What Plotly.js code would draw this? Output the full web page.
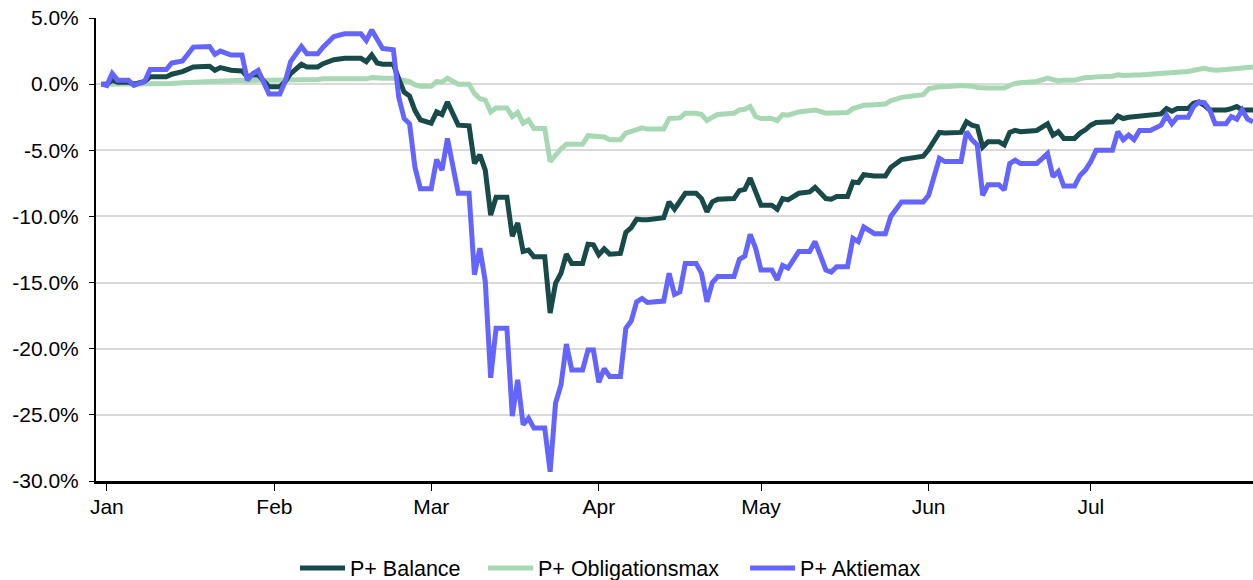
<!DOCTYPE html>
<html>
<head>
<meta charset="utf-8">
<script src="https://cdn.plot.ly/plotly-3.0.1.min.js"></script>
<style>
html,body{margin:0;padding:0;background:#fff;}
#chart{width:1253px;height:580px;}
</style>
</head>
<body>
<div id="chart"></div>
<script>
var dates = [
'2019-12-31','2020-01-01','2020-01-02','2020-01-03','2020-01-05','2020-01-06','2020-01-08','2020-01-09','2020-01-12','2020-01-13',
'2020-01-15','2020-01-17','2020-01-20','2020-01-21','2020-01-22','2020-01-24','2020-01-26','2020-01-27','2020-01-28','2020-01-29',
'2020-01-31','2020-02-02','2020-02-03','2020-02-04','2020-02-06','2020-02-07','2020-02-09','2020-02-10','2020-02-12','2020-02-14',
'2020-02-17','2020-02-18','2020-02-19','2020-02-20','2020-02-21','2020-02-23','2020-02-24','2020-02-25','2020-02-26','2020-02-27',
'2020-02-28','2020-03-01','2020-03-02','2020-03-03','2020-03-04','2020-03-06','2020-03-08','2020-03-09','2020-03-10','2020-03-11',
'2020-03-12','2020-03-13','2020-03-15','2020-03-16','2020-03-17','2020-03-18','2020-03-19','2020-03-20','2020-03-22','2020-03-23',
'2020-03-24','2020-03-25','2020-03-26','2020-03-27','2020-03-29','2020-03-30','2020-03-31','2020-04-01','2020-04-02','2020-04-03',
'2020-04-05','2020-04-06','2020-04-07','2020-04-08','2020-04-09','2020-04-10','2020-04-13','2020-04-14','2020-04-15','2020-04-16',
'2020-04-17','2020-04-19','2020-04-20','2020-04-21','2020-04-22','2020-04-23','2020-04-26','2020-04-27','2020-04-28','2020-04-29',
'2020-04-30','2020-05-01','2020-05-03','2020-05-04','2020-05-05','2020-05-06','2020-05-08','2020-05-10','2020-05-11','2020-05-13',
'2020-05-14','2020-05-15','2020-05-17','2020-05-18','2020-05-19','2020-05-20','2020-05-22','2020-05-24','2020-05-25','2020-05-27',
'2020-05-31','2020-06-01','2020-06-03','2020-06-04','2020-06-07','2020-06-08','2020-06-09','2020-06-10','2020-06-11','2020-06-12',
'2020-06-14','2020-06-15','2020-06-16','2020-06-17','2020-06-18','2020-06-21','2020-06-23','2020-06-24','2020-06-25','2020-06-26',
'2020-06-28','2020-06-29','2020-06-30','2020-07-01','2020-07-02','2020-07-05','2020-07-06','2020-07-07','2020-07-08','2020-07-09',
'2020-07-10','2020-07-12','2020-07-14','2020-07-15','2020-07-16','2020-07-17','2020-07-19','2020-07-20','2020-07-21','2020-07-22',
'2020-07-23','2020-07-24','2020-07-26','2020-07-27','2020-07-28','2020-07-29','2020-07-30','2020-07-31'
];

var balance = [
0,0,0.3,0.15,0.15,0.0,0.2,0.55,0.55,0.75,
0.95,1.3,1.35,1.05,1.25,1.05,1.0,0.55,0.7,0.7,
-0.2,-0.2,0.2,0.8,1.5,1.3,1.3,1.55,1.85,1.95,
1.95,1.7,2.2,1.6,1.5,1.5,0.4,-0.6,-0.9,-2.0,
-2.7,-2.95,-2.1,-2.3,-1.35,-3.1,-3.15,-6.0,-5.35,-6.5,
-9.9,-8.55,-8.55,-11.5,-10.5,-12.65,-12.55,-13.05,-13.05,-17.3,
-15.05,-14.3,-12.85,-13.55,-13.55,-12.1,-12.15,-12.9,-12.45,-12.85,
-12.8,-11.2,-10.85,-10.2,-10.25,-10.25,-10.1,-8.9,-9.45,-8.9,
-8.25,-8.25,-8.65,-9.65,-8.9,-8.7,-8.65,-8.05,-7.95,-7.1,
-8.15,-9.15,-9.15,-9.45,-8.65,-8.75,-8.25,-8.15,-7.8,-8.65,
-8.7,-8.5,-8.5,-7.4,-7.45,-6.85,-6.95,-6.95,-6.3,-5.7,
-5.45,-4.95,-3.65,-3.7,-3.65,-2.85,-3.1,-3.2,-4.75,-4.35,
-4.35,-4.6,-3.65,-3.5,-3.6,-3.5,-3.0,-3.85,-3.6,-4.1,
-4.1,-3.7,-3.45,-3.1,-2.9,-2.85,-2.4,-2.6,-2.5,-2.45,
-2.4,-2.3,-2.25,-1.85,-2.05,-1.85,-1.85,-1.45,-1.35,-1.6,
-1.95,-1.95,-1.95,-1.85,-1.7,-1.95,-1.95,-1.95
];

var obligationsmax = [
0,0,0,0,0,0,0,0.05,0.05,0.05,
0.1,0.15,0.2,0.2,0.25,0.3,0.3,0.25,0.3,0.3,
0.3,0.3,0.3,0.35,0.35,0.35,0.35,0.4,0.4,0.45,
0.45,0.4,0.5,0.45,0.45,0.45,0.35,0.25,0.2,-0.05,
-0.15,-0.15,0.2,0.15,0.45,0.0,0.0,-0.7,-1.1,-1.2,
-2.1,-1.8,-1.8,-2.45,-2.15,-2.95,-2.7,-3.35,-3.35,-5.85,
-5.3,-4.9,-4.55,-4.55,-4.55,-3.9,-3.95,-4.0,-4.0,-4.2,
-4.2,-3.7,-3.55,-3.35,-3.3,-3.4,-3.4,-2.6,-2.6,-2.55,
-2.2,-2.2,-2.3,-2.75,-2.5,-2.3,-2.2,-1.95,-1.9,-1.7,
-2.45,-2.6,-2.6,-2.75,-2.3,-2.35,-2.1,-2.0,-1.95,-2.2,
-2.2,-2.2,-2.15,-1.85,-1.75,-1.6,-1.55,-1.5,-1.25,-1.0,
-0.8,-0.35,-0.2,-0.2,-0.1,-0.1,-0.15,-0.25,-0.3,-0.3,
-0.3,-0.3,-0.1,0.05,0.1,0.2,0.45,0.3,0.25,0.3,
0.3,0.4,0.5,0.5,0.55,0.6,0.7,0.65,0.7,0.7,
0.7,0.75,0.8,0.9,0.9,0.9,0.95,1.05,1.15,1.2,
1.1,1.05,1.1,1.15,1.2,1.2,1.25,1.3
];

var aktiemax = [
0,-0.1,0.8,0.3,0.3,-0.1,0.2,1.1,1.1,1.6,
1.75,2.8,2.85,2.25,2.5,2.2,2.2,0.3,0.8,1.05,
-0.75,-0.75,0.2,1.7,2.85,2.3,2.3,2.8,3.6,3.8,
3.8,3.3,4.1,3.45,2.7,2.6,-1.0,-2.6,-3.0,-6.3,
-7.9,-7.9,-5.7,-6.5,-4.1,-8.25,-8.25,-14.4,-12.4,-14.9,
-22.2,-18.45,-18.45,-25.1,-22.35,-25.75,-25.25,-26,-26,-29.3,
-24.1,-22.75,-19.65,-21.6,-21.6,-20.1,-20.1,-22.55,-21.5,-22.1,
-22.1,-18.45,-17.9,-16.45,-16.2,-16.5,-16.4,-14.3,-15.9,-15.7,
-13.55,-13.55,-14.3,-16.45,-15.0,-14.55,-14.55,-13.25,-13.0,-11.35,
-12.4,-14.05,-14.05,-14.8,-13.7,-13.9,-12.65,-12.65,-11.9,-14.05,
-14.2,-13.8,-13.8,-11.65,-11.9,-10.8,-11.3,-11.3,-10.0,-8.9,
-8.9,-8.4,-5.6,-5.85,-5.85,-3.6,-4.2,-4.6,-8.4,-7.6,
-7.6,-8.0,-6.0,-5.75,-6.0,-6.0,-5.25,-7.0,-6.6,-7.7,
-7.7,-6.9,-6.5,-5.85,-5.0,-5.0,-3.6,-4.2,-3.85,-4.2,
-3.5,-3.5,-3.1,-2.35,-3.0,-2.5,-2.5,-1.7,-1.35,-1.4,
-1.95,-3.0,-3.0,-2.45,-2.65,-1.95,-2.65,-2.85
];

var seriesNames = ['P+ Balance', 'P+ Obligationsmax', 'P+ Aktiemax'];
var monthTicks = ['2020-01-01','2020-02-01','2020-03-01','2020-04-01','2020-05-01','2020-06-01','2020-07-01'];
var monthLabels = ['Jan','Feb','Mar','Apr','May','Jun','Jul'];
var yTickVals = [5, 0, -5, -10, -15, -20, -25, -30];
var yTickLabels = ['5.0%','0.0%','-5.0%','-10.0%','-15.0%','-20.0%','-25.0%','-30.0%'];

var traces = [
  {x: dates, y: obligationsmax, name: seriesNames[1], type: 'scatter', mode: 'lines',
   line: {color: '#a8d8b3', width: 5}, legend: 'legend2'},
  {x: dates, y: balance, name: seriesNames[0], type: 'scatter', mode: 'lines',
   line: {color: '#174a48', width: 5}, legend: 'legend'},
  {x: dates, y: aktiemax, name: seriesNames[2], type: 'scatter', mode: 'lines',
   line: {color: '#6464ff', width: 5}, legend: 'legend3'}
];

function legendAt(xPaper) {
  return {orientation: 'h', x: xPaper, xanchor: 'left', y: -0.188, yanchor: 'middle',
          itemwidth: 45, bgcolor: 'rgba(0,0,0,0)', borderwidth: 0,
          font: {size: 21.5, color: '#000'}};
}

var layout = {
  width: 1253, height: 580,
  margin: {l: 96, r: 0, t: 18, b: 99, autoexpand: false},
  paper_bgcolor: '#ffffff', plot_bgcolor: '#ffffff',
  font: {family: '"Liberation Sans", Arial, sans-serif', size: 21, color: '#000'},
  showlegend: true,
  legend: legendAt(0.172),
  legend2: legendAt(0.3345),
  legend3: legendAt(0.561),
  xaxis: {
    type: 'date', range: ['2019-12-30', '2020-07-31'],
    tickvals: monthTicks, ticktext: monthLabels,
    showgrid: false, zeroline: false,
    showline: true, linecolor: '#000', linewidth: 3,
    ticks: 'outside', ticklen: 7, tickcolor: '#000', tickwidth: 1,
    ticklabelstandoff: -2,
    tickfont: {size: 21, color: '#000'}
  },
  yaxis: {
    range: [-30, 5], tickvals: yTickVals, ticktext: yTickLabels,
    showgrid: true, gridcolor: '#d9d9d9', gridwidth: 2, zeroline: false,
    showline: true, linecolor: '#000', linewidth: 2,
    ticks: 'outside', ticklen: 5, tickcolor: '#000', tickwidth: 1,
    ticklabelstandoff: 6,
    tickfont: {size: 21, color: '#000'}
  }
};

Plotly.newPlot('chart', traces, layout, {staticPlot: true, displayModeBar: false});
</script>
</body>
</html>
